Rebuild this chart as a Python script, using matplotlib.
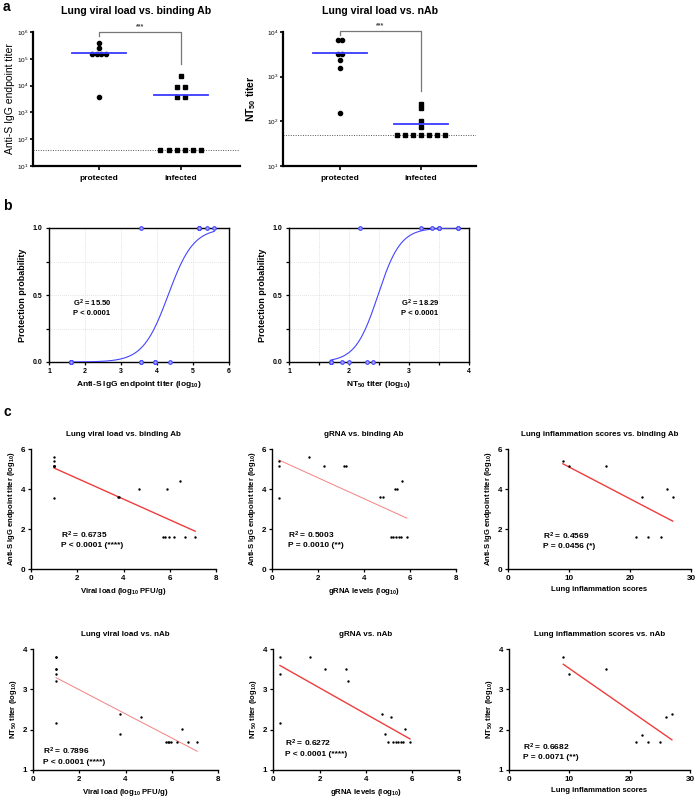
"""Antibody titers vs. protection: swarm plots, logistic fits and correlations."""
import matplotlib

matplotlib.use("Agg")
import matplotlib.pyplot as plt  # noqa
import matplotlib.ticker as mticker  # noqa
import numpy as np

plt.rcParams["font.family"] = ["Liberation Sans", "DejaVu Sans"]
plt.rcParams["mathtext.fontset"] = "custom"
plt.rcParams["mathtext.rm"] = "Liberation Sans:bold"
plt.rcParams["mathtext.it"] = "Liberation Sans:bold"
plt.rcParams["mathtext.bf"] = "Liberation Sans:bold"
plt.rcParams["mathtext.default"] = "bf"

# ---- panel a: endpoint titers per group
groups = ["protected", "infected"]
igg_protected = [3.6e3, 1.5e5, 1.5e5, 1.5e5, 1.5e5, 2.5e5, 3.9e5]
igg_infected = [2.3e4, 9e3, 9e3, 3.6e3, 3.6e3, 40, 40, 40, 40, 40, 40]
igg_center = [1.7e5, 4.5e3]
igg_lod = 40
nt50_protected = [6.5e3, 6.5e3, 3.2e3, 3.2e3, 2.4e3, 1.6e3, 150]
nt50_infected = [250, 200, 100, 75, 50, 50, 50, 50, 50, 50, 50]
nt50_center = [3.4e3, 85]
nt50_lod = 50

# ---- panel b: logistic regression stats
g2_igg = "G$^2$ = 15.50\nP < 0.0001"
g2_nt50 = "G$^2$ = 18.29\nP < 0.0001"

# ---- panel c: correlations (log10 values)
vl_binding_x = [1, 1, 1, 1, 1, 1, 1, 3.75, 3.8, 4.67, 5.9, 6.45, 5.72, 5.8, 5.98, 6.2, 6.68, 7.1]
vl_binding_y = [5.59, 5.40, 5.17, 5.17, 5.17, 5.17, 3.55, 3.6, 3.6, 4.0, 4.0, 4.4,
                1.6, 1.6, 1.6, 1.6, 1.6, 1.6]
grna_binding_x = [0.3, 0.3, 0.3, 1.6, 2.25, 3.13, 3.21, 4.70, 4.81, 5.35, 5.45, 5.64,
                  5.18, 5.28, 5.38, 5.50, 5.60, 5.86]
grna_binding_y = [5.40, 5.17, 3.55, 5.59, 5.17, 5.17, 5.17, 3.6, 3.6, 4.0, 4.0, 4.4,
                  1.6, 1.6, 1.6, 1.6, 1.6, 1.6]
infl_binding_x = [9, 10, 16, 22, 26, 27, 21, 23, 25]
infl_binding_y = [5.40, 5.17, 5.17, 3.6, 4.0, 3.6, 1.6, 1.6, 1.6]
vl_nab_x = [1, 1, 1, 1, 1, 1, 1, 3.78, 3.75, 4.68, 6.46, 5.73, 5.84, 5.9, 5.98, 6.23, 6.70, 7.10]
vl_nab_y = [3.81, 3.81, 3.51, 3.51, 3.38, 3.20, 2.17, 2.40, 1.89, 2.31, 2.01,
            1.7, 1.7, 1.7, 1.7, 1.7, 1.7, 1.7]
grna_nab_x = [0.3, 0.3, 0.3, 1.6, 2.25, 3.13, 3.21, 4.68, 4.83, 5.06, 5.69,
              4.96, 5.17, 5.27, 5.39, 5.49, 5.57, 5.89]
grna_nab_y = [3.81, 3.38, 2.17, 3.81, 3.51, 3.51, 3.20, 2.40, 1.89, 2.31, 2.01,
              1.7, 1.7, 1.7, 1.7, 1.7, 1.7, 1.7]
infl_nab_x = [9, 10, 16, 21, 22, 23, 25, 26, 27]
infl_nab_y = [3.81, 3.38, 3.51, 1.7, 1.88, 1.7, 1.7, 2.31, 2.40]

stats_c = [
    "R$^2$ = 0.6735\nP < 0.0001 (****)",
    "R$^2$ = 0.5003\nP = 0.0010 (**)",
    "R$^2$ = 0.4569\nP = 0.0456 (*)",
    "R$^2$ = 0.7896\nP < 0.0001 (****)",
    "R$^2$ = 0.6272\nP < 0.0001 (****)",
    "R$^2$ = 0.6682\nP = 0.0071 (**)",
]

W, H = 696, 800
fig = plt.figure(figsize=(W / 100, H / 100), dpi=100)


def px_axes(x0, y0, x1, y1):
    return fig.add_axes([x0 / W, 1 - y1 / H, (x1 - x0) / W, (y1 - y0) / H])


def spread(vals, step):
    # simple swarm: identical values are put side by side, centred
    vals = np.asarray(vals, dtype=float)
    offs = np.zeros(len(vals))
    for v in np.unique(vals):
        idx = np.where(vals == v)[0]
        offs[idx] = (np.arange(len(idx)) - (len(idx) - 1) / 2) * step
    return offs


# ================= panel a
def swarm_panel(ax, prot, inf, centers, lod, ylim, title, ylabel, yweight, bracket, xlim,
                label_x):
    ax.set_yscale("log")
    ax.set_ylim(*ylim)
    ax.set_xlim(*xlim)
    ax.plot(spread(prot, 0.055), prot, "o", color="black", ms=3.0, zorder=3)
    ax.plot(1 + spread(inf, 0.1), inf, "s", color="black", ms=2.6, zorder=3)
    for i, c in enumerate(centers):
        ax.plot([i - 0.33, i + 0.33], [c, c], color="#3a3aff", lw=1.3, zorder=4)
    ax.axhline(lod, color="#555555", lw=0.7, ls=(0, (1, 1.5)), zorder=1)
    top, left_end, right_end, star_y = bracket
    ax.plot([0, 0, 1, 1], [left_end, top, top, right_end], color="#777777", lw=0.9,
            clip_on=False)
    ax.text(0.5, star_y, "***", ha="center", va="center", fontsize=5, weight="bold",
            color="#444444")
    ax.set_xticks([0, 1])
    ax.set_xticklabels(groups, fontsize=6, weight="bold")
    ax.yaxis.set_major_locator(mticker.LogLocator(base=10, numticks=10))
    ax.yaxis.set_minor_locator(mticker.NullLocator())
    ax.tick_params(axis="y", labelsize=4.6, width=1.2, length=2.5, pad=1)
    ax.tick_params(axis="x", width=1.2, length=3)
    for s in ("top", "right"):
        ax.spines[s].set_visible(False)
    for s in ("left", "bottom"):
        ax.spines[s].set_linewidth(1.6)
    ax.set_title(title, fontsize=7.6, weight="bold", pad=13)
    ax.set_ylabel(ylabel, fontsize=7.5, weight=yweight)
    ax.yaxis.set_label_coords(label_x, 0.5)


ax = px_axes(33, 32, 240, 166)
swarm_panel(ax, igg_protected, igg_infected, igg_center, igg_lod, (10, 1e6),
            "Lung viral load vs. binding Ab", "Anti-S IgG endpoint titer", "normal",
            (1e6, 7e5, 6.6e4, 1.6e6), (-0.805, 1.72), -0.085)
ax = px_axes(283, 32, 476, 166)
swarm_panel(ax, nt50_protected, nt50_infected, nt50_center, nt50_lod, (10, 1e4),
            "Lung viral load vs. nAb", "NT$_{50}$ titer", "bold",
            (1.05e4, 8.7e3, 480, 1.4e4), (-0.70, 1.68), -0.13)


# ================= panel b
def logistic_fit(x, y):
    X = np.column_stack([np.ones(len(x)), x])
    beta = np.zeros(2)
    for _ in range(50):
        p = 1 / (1 + np.exp(-X @ beta))
        w = p * (1 - p)
        beta = beta + np.linalg.solve(X.T @ (X * w[:, None]), X.T @ (y - p))
    return beta


def logistic_panel(ax, prot, inf, xlim, xminor, label, stats, stats_x):
    x = np.log10(np.concatenate([prot, inf]))
    y = np.concatenate([np.ones(len(prot)), np.zeros(len(inf))])
    b0, b1 = logistic_fit(x, y)
    xs = np.linspace(x.min(), x.max(), 200)
    ax.plot(xs, 1 / (1 + np.exp(-(b0 + b1 * xs))), color="#4444ff", lw=0.8, zorder=3)
    ax.plot(x, y, "o", ms=2.6, mfc="#a8a8ff", mec="#4444ff", mew=0.8, zorder=4,
            clip_on=False)
    ax.set_xlim(*xlim)
    ax.set_ylim(0, 1)
    ax.set_xticks(np.arange(xlim[0], xlim[1] + 1))
    ax.xaxis.set_minor_locator(mticker.MultipleLocator(0.5) if xminor else mticker.NullLocator())
    ax.set_yticks([0, 0.5, 1.0])
    ax.yaxis.set_minor_locator(mticker.MultipleLocator(0.25))
    ax.yaxis.set_major_formatter(mticker.FormatStrFormatter("%.1f"))
    ax.grid(True, which="both", color="#d8d8d8", ls=(0, (1, 1.5)), lw=0.6)
    ax.set_axisbelow(True)
    ax.tick_params(which="both", labelsize=5, width=0.9, length=2.5, pad=2)
    for lab in ax.get_xticklabels() + ax.get_yticklabels():
        lab.set_fontweight("bold")
    for s in ax.spines.values():
        s.set_linewidth(1.0)
    ax.set_ylabel("Protection probability", fontsize=6.5, weight="bold", labelpad=4)
    ax.set_xlabel(label, fontsize=6, weight="bold", labelpad=3)
    ax.text(stats_x, 0.41, stats, fontsize=5.5, weight="bold", va="center")


ax = px_axes(49, 228, 229, 362)
logistic_panel(ax, igg_protected, igg_infected, (1, 6), False,
               "Anti-S IgG endpoint titer (log$_{10}$)", g2_igg, 1.67)
ax = px_axes(289, 228, 469, 362)
logistic_panel(ax, nt50_protected, nt50_infected, (1, 4), True,
               "NT$_{50}$ titer (log$_{10}$)", g2_nt50, 2.87)


# ================= panel c
def corr_panel(ax, x, y, xlim, ylim, ticks_x, ticks_y, title, xlabel, ylabel, stats,
               stats_xy, line_color, line_w):
    x = np.asarray(x)
    y = np.asarray(y)
    ax.scatter(x, y, s=3, color="black", zorder=3, linewidths=0)
    k, d = np.polyfit(x, y, 1)
    xs = np.array([x.min(), x.max()])
    ax.plot(xs, k * xs + d, color=line_color, lw=line_w, zorder=2)
    ax.set_xlim(*xlim)
    ax.set_ylim(*ylim)
    ax.set_xticks(ticks_x)
    ax.set_yticks(ticks_y)
    ax.tick_params(labelsize=5.8, width=0.9, length=2.5, pad=1.5)
    for lab in ax.get_xticklabels() + ax.get_yticklabels():
        lab.set_fontweight("bold")
    for s in ("top", "right"):
        ax.spines[s].set_visible(False)
    for s in ("left", "bottom"):
        ax.spines[s].set_linewidth(1.0)
    ax.set_title(title, fontsize=5.8, weight="bold", pad=9)
    ax.set_xlabel(xlabel, fontsize=5.6, weight="bold", labelpad=3)
    ax.set_ylabel(ylabel, fontsize=5.5, weight="bold", labelpad=3)
    ax.text(stats_xy[0], stats_xy[1], stats, fontsize=6, weight="bold", va="center",
            linespacing=1.25)


igg_lab = "Anti-S IgG endpoint titer (log$_{10}$)"
nab_lab = "NT$_{50}$ titer (log$_{10}$)"
vl_lab = "Viral load (log$_{10}$ PFU/g)"
grna_lab = "gRNA levels (log$_{10}$)"
infl_lab = "Lung inflammation scores"
red = "#f03c3c"
pale = "#f58080"

ax = px_axes(31, 449, 216, 569)
corr_panel(ax, vl_binding_x, vl_binding_y, (0, 8), (0, 6), [0, 2, 4, 6, 8], [0, 2, 4, 6],
           "Lung viral load vs. binding Ab", vl_lab, igg_lab, stats_c[0], (1.3, 1.5), red, 1.0)
ax = px_axes(272, 449, 456, 569)
corr_panel(ax, grna_binding_x, grna_binding_y, (0, 8), (0, 6), [0, 2, 4, 6, 8], [0, 2, 4, 6],
           "gRNA vs. binding Ab", grna_lab, igg_lab, stats_c[1], (0.7, 1.5), pale, 0.7)
ax = px_axes(508, 449, 691, 569)
corr_panel(ax, infl_binding_x, infl_binding_y, (0, 30), (0, 6), [0, 10, 20, 30], [0, 2, 4, 6],
           "Lung inflammation scores vs. binding Ab", infl_lab, igg_lab, stats_c[2],
           (5.7, 1.45), red, 1.0)
ax = px_axes(33, 649, 218, 770)
corr_panel(ax, vl_nab_x, vl_nab_y, (0, 8), (1, 4), [0, 2, 4, 6, 8], [1, 2, 3, 4],
           "Lung viral load vs. nAb", vl_lab, nab_lab, stats_c[3], (0.45, 1.35), pale, 0.7)
ax = px_axes(273, 649, 459, 770)
corr_panel(ax, grna_nab_x, grna_nab_y, (0, 8), (1, 4), [0, 2, 4, 6, 8], [1, 2, 3, 4],
           "gRNA vs. nAb", grna_lab, nab_lab, stats_c[4], (0.5, 1.55), red, 1.0)
ax = px_axes(509, 649, 690, 770)
corr_panel(ax, infl_nab_x, infl_nab_y, (0, 30), (1, 4), [0, 10, 20, 30], [1, 2, 3, 4],
           "Lung inflammation scores vs. nAb", infl_lab, nab_lab, stats_c[5], (2.3, 1.46),
           red, 1.0)

# panel letters
for letter, ytop in (("a", 0), ("b", 199), ("c", 405)):
    fig.text(3 / W, 1 - ytop / H, letter, fontsize=10, weight="bold", va="top", ha="left")

fig.savefig("out.png", dpi=100)
